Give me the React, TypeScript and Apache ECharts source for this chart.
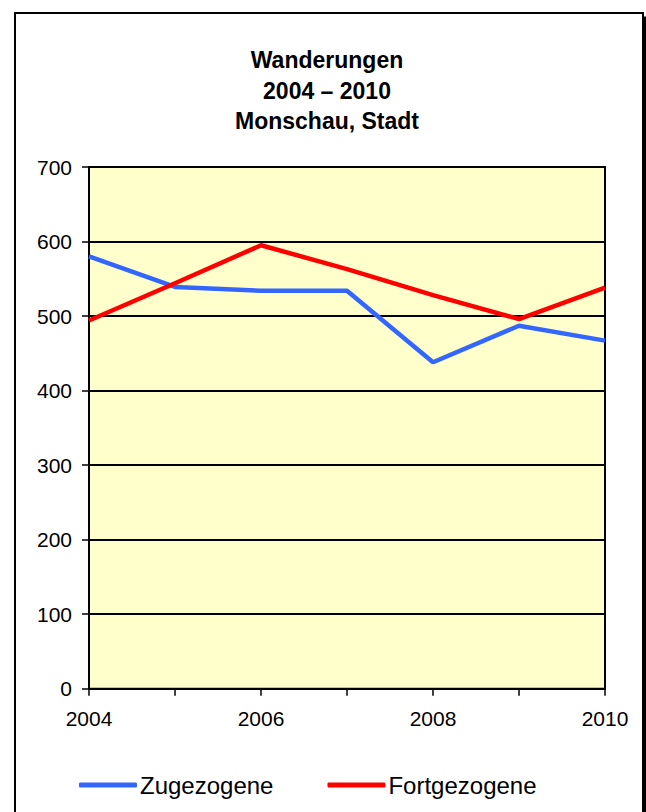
import React, { useEffect, useRef } from "react";
import * as echarts from "echarts";

const years = ["2004", "2005", "2006", "2007", "2008", "2009", "2010"];
const zugezogene = [580, 539, 534, 534, 438, 487, 467];
const fortgezogene = [494, 544, 595, 563, 528, 496, 538];
const titleLines = ["Wanderungen", "2004 – 2010", "Monschau, Stadt"];
const seriesNames = ["Zugezogene", "Fortgezogene"];

const FONT = "'Liberation Sans', Arial, sans-serif";

export default function App() {
  const ref = useRef<HTMLDivElement>(null);
  useEffect(() => {
    if (!ref.current) return;
    const chart = echarts.init(ref.current, undefined, { renderer: "svg" });
    chart.setOption({
      animation: false,
      textStyle: { fontFamily: FONT },
      title: {
        text: titleLines.join("\n"),
        left: 327,
        textAlign: "center",
        top: 45,
        padding: 0,
        textStyle: {
          fontFamily: FONT,
          fontWeight: "bold",
          fontSize: 23,
          lineHeight: 30.5,
          color: "#000",
        },
      },
      legend: {
        left: 79,
        top: 773,
        padding: 0,
        itemGap: 54,
        itemWidth: 58,
        itemHeight: 5,
        icon: "roundRect",
        textStyle: { fontFamily: FONT, fontSize: 24, color: "#000", padding: [0, 0, 0, -2] },
        data: seriesNames,
      },
      grid: {
        left: 89,
        right: 41,
        top: 167,
        bottom: 123.3,
        show: true,
        backgroundColor: "#FFFFCC",
        borderColor: "#000",
        borderWidth: 2,
        containLabel: false,
      },
      xAxis: {
        type: "category",
        data: years,
        boundaryGap: false,
        axisLine: { show: true, lineStyle: { color: "#000", width: 2 } },
        axisTick: { show: true, interval: 0, length: 7, lineStyle: { color: "#000", width: 1.5 } },
        axisLabel: { interval: 1, margin: 19, fontSize: 21, color: "#000", fontFamily: FONT },
        splitLine: { show: false },
      },
      yAxis: {
        type: "value",
        min: 0,
        max: 700,
        interval: 100,
        axisLine: { show: true, lineStyle: { color: "#000", width: 2 } },
        axisTick: { show: true, length: 7, lineStyle: { color: "#000", width: 1.5 } },
        axisLabel: { margin: 17, fontSize: 21, color: "#000", fontFamily: FONT },
        splitLine: { show: true, lineStyle: { color: "#000", width: 2 } },
      },
      series: [
        {
          name: seriesNames[0],
          type: "line",
          data: zugezogene,
          symbol: "none",
          color: "#3366FF",
          lineStyle: { color: "#3366FF", width: 4.5 },
        },
        {
          name: seriesNames[1],
          type: "line",
          data: fortgezogene,
          symbol: "none",
          color: "#FF0000",
          lineStyle: { color: "#FF0000", width: 4.5 },
        },
      ],
    });
    return () => chart.dispose();
  }, []);

  return (
    <div
      style={{
        position: "fixed",
        left: 0,
        top: 0,
        width: 646,
        height: 812,
        overflow: "hidden",
        background: "#fff",
      }}
    >
      <div
        style={{
          position: "absolute",
          left: 13.5,
          top: 11.7,
          width: 626,
          height: 900,
          border: "2px solid #000",
          boxShadow: "4.5px 4.5px 0 #000",
          background: "#fff",
        }}
      />
      <div ref={ref} style={{ position: "absolute", left: 0, top: 0, width: 646, height: 812 }} />
    </div>
  );
}
